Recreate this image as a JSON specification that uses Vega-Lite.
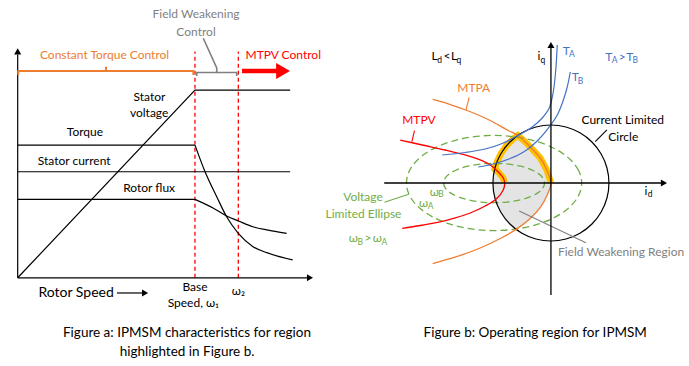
{
"$schema": "https://vega.github.io/schema/vega-lite/v6.json",
"autosize": {"type": "pad"},
"padding": 0,
"spacing": 0,
"bounds": "flush",
"background": "white",
"config": {"view": {"stroke": null}},
"datasets": {
"leftLines": [
{"c":"yaxis","o":0,"s":0,"v":0},{"c":"yaxis","o":1,"s":0,"v":119},
{"c":"xaxis","o":0,"s":0,"v":0},{"c":"xaxis","o":1,"s":164,"v":0},
{"c":"voltage","o":0,"s":0,"v":0},{"c":"voltage","o":1,"s":100.2,"v":100},{"c":"voltage","o":2,"s":154,"v":100},
{"c":"torque","o":0,"s":0,"v":70.7},{"c":"torque","o":1,"s":100.2,"v":70.7},
{"c":"current","o":0,"s":0,"v":56.5},{"c":"current","o":1,"s":154,"v":56.5},
{"c":"flux","o":0,"s":0,"v":41.8},{"c":"flux","o":1,"s":100.2,"v":41.8},
{"c":"speedarrow","o":0,"s":56.1,"v":-8.1},{"c":"speedarrow","o":1,"s":71,"v":-8.1}
],
"leftDecay": [
{"c":"torque","o":0,"s":100.2,"v":70.7},{"c":"torque","o":1,"s":105.9,"v":56.5},{"c":"torque","o":2,"s":112.5,"v":43.2},{"c":"torque","o":3,"s":118.1,"v":32.5},{"c":"torque","o":4,"s":124.7,"v":23.7},{"c":"torque","o":5,"s":133,"v":16.6},{"c":"torque","o":6,"s":140.8,"v":13.4},{"c":"torque","o":7,"s":155.4,"v":9.5},
{"c":"flux","o":0,"s":100.2,"v":41.8},{"c":"flux","o":1,"s":110.4,"v":37.2},{"c":"flux","o":2,"s":118.1,"v":32.9},{"c":"flux","o":3,"s":124.5,"v":30.4},{"c":"flux","o":4,"s":133,"v":27.2},{"c":"flux","o":5,"s":140.8,"v":25.5},{"c":"flux","o":6,"s":152,"v":23.7}
],
"ctBracket": [
{"o":0,"s":0.3,"v":108},{"o":1,"s":0.3,"v":110.2},{"o":2,"s":49.9,"v":110.2},{"o":3,"s":49.9,"v":112.5},{"o":4,"s":49.9,"v":110.2},{"o":5,"s":99.3,"v":110.2},{"o":6,"s":99.3,"v":108}
],
"fwBracket": [
{"c":"a","o":0,"s":101.2,"v":107.5},{"c":"a","o":1,"s":101.2,"v":109.4},{"c":"a","o":2,"s":112.5,"v":109.4},{"c":"a","o":3,"s":112.5,"v":111.8},{"c":"a","o":4,"s":104.9,"v":127.6},
{"c":"b","o":0,"s":112.5,"v":109.4},{"c":"b","o":1,"s":123.8,"v":109.4},{"c":"b","o":2,"s":123.8,"v":107.5}
],
"speedMarks": [
{"c":"base","o":0,"s":100.2,"v":0},{"c":"base","o":1,"s":100.2,"v":120.5},
{"c":"w2","o":0,"s":124.7,"v":0},{"c":"w2","o":1,"s":124.7,"v":120.5}
],
"mtpvArrow": [{"o":0,"s":126.8,"v":110.2},{"o":1,"s":147,"v":110.2}],
"mtpvArrowHead": [{"s":150,"v":110.2}],
"leftUpHead": [{"s":0,"v":120.6}],
"leftRightHead": [{"s":165.2,"v":0},{"s":72,"v":-8.1}],
"leftLabels": [
{"t":"Stator","s":74.5,"v":96.5},{"t":"voltage","s":74.3,"v":87.6},{"t":"Torque","s":38,"v":77.7},{"t":"Stator current","s":31.9,"v":62.2},{"t":"Rotor flux","s":74.3,"v":47.7},{"t":"Base","s":100.2,"v":-4.8},{"t":"Speed, ω₁","s":99.3,"v":-13.6},{"t":"ω₂","s":124.7,"v":-6.9}
],
"rotorSpeedLabel": [{"t":"Rotor Speed","s":33,"v":-8.1}],
"ctLabel": [{"t":"Constant Torque Control","s":49.1,"v":118.7}],
"fwLabel": [{"t":"Field Weakening","s":100.8,"v":140.5},{"t":"Control","s":100.8,"v":131}],
"mtpvLabel": [{"t":"MTPV Control","s":150.1,"v":118.7}],
"captionA": [{"t":"Figure a: IPMSM characteristics for region","s":95.7,"v":-29.4},{"t":"highlighted in Figure b.","s":95.7,"v":-39.5}],
"fwRegion": [
{"iq":-80,"id":-60,"id2":-60},{"iq":-75,"id":-66.1,"id2":-53.5},{"iq":-70,"id":-71.4,"id2":-46.5},{"iq":-60,"id":-80,"id2":-34.5},{"iq":-50,"id":-86.6,"id2":-25.2},{"iq":-40,"id":-91.7,"id2":-16.8},{"iq":-30,"id":-95.4,"id2":-11},{"iq":-20,"id":-98,"id2":-6.2},{"iq":-10,"id":-99.5,"id2":-3},{"iq":0,"id":-100,"id2":0},{"iq":10,"id":-99.5,"id2":-3},{"iq":20,"id":-98,"id2":-6.2},{"iq":30,"id":-95.4,"id2":-11},{"iq":40,"id":-91.7,"id2":-16.6},{"iq":50,"id":-86.6,"id2":-24.5},{"iq":60,"id":-80,"id2":-33.5},{"iq":70,"id":-71.4,"id2":-44},{"iq":76,"id":-65,"id2":-51},{"iq":82,"id":-57.2,"id2":-57}
],
"yellowBand": [
{"o":0,"id":-80.3,"iq":1},{"o":1,"id":-82.2,"iq":8.6},{"o":2,"id":-90.9,"iq":19},{"o":3,"id":-97,"iq":24},{"o":4,"id":-94,"iq":34.2},{"o":5,"id":-86.6,"iq":50},{"o":6,"id":-76.6,"iq":64.3},{"o":7,"id":-64.3,"iq":76.6},{"o":8,"id":-57,"iq":82},{"o":9,"id":-45.9,"iq":72.4},{"o":10,"id":-35.7,"iq":62.1},{"o":11,"id":-18.4,"iq":43.1},{"o":12,"id":-7.2,"iq":22.4},{"o":13,"id":0,"iq":0.5}
],
"ellipses": [
{"c":"outer","o":0,"id":53,"iq":0},{"c":"outer","o":1,"id":47.9,"iq":21.2},{"c":"outer","o":2,"id":32.8,"iq":41},{"c":"outer","o":3,"id":8.8,"iq":58},{"c":"outer","o":4,"id":-22.5,"iq":71},{"c":"outer","o":5,"id":-58.9,"iq":79.2},{"c":"outer","o":6,"id":-98,"iq":82},{"c":"outer","o":7,"id":-137.1,"iq":79.2},{"c":"outer","o":8,"id":-173.5,"iq":71},{"c":"outer","o":9,"id":-204.8,"iq":58},{"c":"outer","o":10,"id":-228.8,"iq":41},{"c":"outer","o":11,"id":-243.9,"iq":21.2},{"c":"outer","o":12,"id":-249,"iq":0},{"c":"outer","o":13,"id":-243.9,"iq":-21.2},{"c":"outer","o":14,"id":-228.8,"iq":-41},{"c":"outer","o":15,"id":-204.8,"iq":-58},{"c":"outer","o":16,"id":-173.5,"iq":-71},{"c":"outer","o":17,"id":-137.1,"iq":-79.2},{"c":"outer","o":18,"id":-98,"iq":-82},{"c":"outer","o":19,"id":-58.9,"iq":-79.2},{"c":"outer","o":20,"id":-22.5,"iq":-71},{"c":"outer","o":21,"id":8.8,"iq":-58},{"c":"outer","o":22,"id":32.8,"iq":-41},{"c":"outer","o":23,"id":47.9,"iq":-21.2},
{"c":"inner","o":0,"id":-11,"iq":0},{"c":"inner","o":1,"id":-14,"iq":8.8},{"c":"inner","o":2,"id":-22.7,"iq":17},{"c":"inner","o":3,"id":-36.5,"iq":24},{"c":"inner","o":4,"id":-54.5,"iq":29.4},{"c":"inner","o":5,"id":-75.5,"iq":32.8},{"c":"inner","o":6,"id":-98,"iq":34},{"c":"inner","o":7,"id":-120.5,"iq":32.8},{"c":"inner","o":8,"id":-141.5,"iq":29.4},{"c":"inner","o":9,"id":-159.5,"iq":24},{"c":"inner","o":10,"id":-173.3,"iq":17},{"c":"inner","o":11,"id":-182,"iq":8.8},{"c":"inner","o":12,"id":-185,"iq":0},{"c":"inner","o":13,"id":-182,"iq":-8.8},{"c":"inner","o":14,"id":-173.3,"iq":-17},{"c":"inner","o":15,"id":-159.5,"iq":-24},{"c":"inner","o":16,"id":-141.5,"iq":-29.4},{"c":"inner","o":17,"id":-120.5,"iq":-32.8},{"c":"inner","o":18,"id":-98,"iq":-34},{"c":"inner","o":19,"id":-75.5,"iq":-32.8},{"c":"inner","o":20,"id":-54.5,"iq":-29.4},{"c":"inner","o":21,"id":-36.5,"iq":-24},{"c":"inner","o":22,"id":-22.7,"iq":-17},{"c":"inner","o":23,"id":-14,"iq":-8.8}
],
"circle": [
{"o":0,"id":100,"iq":0},{"o":1,"id":96.6,"iq":25.9},{"o":2,"id":86.6,"iq":50},{"o":3,"id":70.7,"iq":70.7},{"o":4,"id":50,"iq":86.6},{"o":5,"id":25.9,"iq":96.6},{"o":6,"id":0,"iq":100},{"o":7,"id":-25.9,"iq":96.6},{"o":8,"id":-50,"iq":86.6},{"o":9,"id":-70.7,"iq":70.7},{"o":10,"id":-86.6,"iq":50},{"o":11,"id":-96.6,"iq":25.9},{"o":12,"id":-100,"iq":0},{"o":13,"id":-96.6,"iq":-25.9},{"o":14,"id":-86.6,"iq":-50},{"o":15,"id":-70.7,"iq":-70.7},{"o":16,"id":-50,"iq":-86.6},{"o":17,"id":-25.9,"iq":-96.6},{"o":18,"id":0,"iq":-100},{"o":19,"id":25.9,"iq":-96.6},{"o":20,"id":50,"iq":-86.6},{"o":21,"id":70.7,"iq":-70.7},{"o":22,"id":86.6,"iq":-50},{"o":23,"id":96.6,"iq":-25.9}
],
"mtpa": [
{"o":0,"id":-203.8,"iq":144},{"o":1,"id":-173.6,"iq":135.3},{"o":2,"id":-144.3,"iq":125},{"o":3,"id":-104.7,"iq":107.8},{"o":4,"id":-75.3,"iq":91.4},{"o":5,"id":-57,"iq":82},{"o":6,"id":-45.9,"iq":72.4},{"o":7,"id":-35.7,"iq":62.1},{"o":8,"id":-18.4,"iq":43.1},{"o":9,"id":-7.2,"iq":22.4},{"o":10,"id":0,"iq":0},{"o":11,"id":-7.2,"iq":-22.4},{"o":12,"id":-18.4,"iq":-42.2},{"o":13,"id":-35.7,"iq":-61.2},{"o":14,"id":-60,"iq":-80},{"o":15,"id":-87.4,"iq":-95.7},{"o":16,"id":-121.9,"iq":-112.1},{"o":17,"id":-161.5,"iq":-126.7},{"o":18,"id":-203.8,"iq":-138.8}
],
"mtpv": [
{"o":0,"id":-259.8,"iq":74.1},{"o":1,"id":-221.9,"iq":65.5},{"o":2,"id":-182.3,"iq":56.9},{"o":3,"id":-147.8,"iq":48.3},{"o":4,"id":-121.9,"iq":39.7},{"o":5,"id":-104.6,"iq":31},{"o":6,"id":-90.9,"iq":19},{"o":7,"id":-82.2,"iq":8.6},{"o":8,"id":-79.7,"iq":0},{"o":9,"id":-82.2,"iq":-12.1},{"o":10,"id":-94.3,"iq":-27.6},{"o":11,"id":-113.3,"iq":-39.7},{"o":12,"id":-139.1,"iq":-51.7},{"o":13,"id":-165,"iq":-60.3},{"o":14,"id":-190.9,"iq":-67.2},{"o":15,"id":-225.3,"iq":-73.3},{"o":16,"id":-256.4,"iq":-78.1}
],
"torqueCurves": [
{"c":"TA","o":0,"id":10.9,"iq":237.9},{"c":"TA","o":1,"id":8.3,"iq":194.8},{"c":"TA","o":2,"id":4,"iq":156.9},{"c":"TA","o":3,"id":-2.9,"iq":129.3},{"c":"TA","o":4,"id":-15,"iq":112.1},{"c":"TA","o":5,"id":-32.2,"iq":96.6},{"c":"TA","o":6,"id":-57,"iq":82},{"c":"TA","o":7,"id":-84,"iq":68.1},{"c":"TA","o":8,"id":-113.3,"iq":58.6},{"c":"TA","o":9,"id":-147.8,"iq":52.6},{"c":"TA","o":10,"id":-187.4,"iq":48.3},
{"c":"TB","o":0,"id":33.3,"iq":191.4},{"c":"TB","o":1,"id":28.1,"iq":165.5},{"c":"TB","o":2,"id":20.3,"iq":139.7},{"c":"TB","o":3,"id":10.9,"iq":117.2},{"c":"TB","o":4,"id":-2.9,"iq":96.6},{"c":"TB","o":5,"id":-21.9,"iq":74.1},{"c":"TB","o":6,"id":-44.3,"iq":55.2},{"c":"TB","o":7,"id":-70.2,"iq":42.2},{"c":"TB","o":8,"id":-99.5,"iq":32.8},{"c":"TB","o":9,"id":-125.3,"iq":27.6}
],
"leaders": [
{"c":"MTPA","o":0,"id":-146.5,"iq":125.9},{"c":"MTPA","o":1,"id":-140.9,"iq":147.8},
{"c":"MTPV","o":0,"id":-239.7,"iq":71.2},{"c":"MTPV","o":1,"id":-235.2,"iq":90.2},
{"c":"Current limit","o":0,"id":76.4,"iq":71.2},{"c":"Current limit","o":1,"id":96.5,"iq":91.4},
{"c":"Voltage limit","o":0,"id":-286.9,"iq":-33.3},{"c":"Voltage limit","o":1,"id":-245.5,"iq":-19.5},
{"c":"Field weakening","o":0,"id":-54.7,"iq":-48.3},{"c":"Field weakening","o":1,"id":60.3,"iq":-102.9}
],
"rightAxes": [
{"c":"iq","o":0,"id":0,"iq":-193},{"c":"iq","o":1,"id":0,"iq":236},
{"c":"id","o":0,"id":-287.4,"iq":0},{"c":"id","o":1,"id":194,"iq":0}
],
"rightUpHead": [{"id":0,"iq":237.9}],
"rightRightHead": [{"id":194.8,"iq":0}],
"rBlack": [
{"t":"Current Limited","id":123.8,"iq":108.6},{"t":"Circle","id":124.7,"iq":78.8},{"t":"i","id":-20.5,"iq":219},{"t":"i","id":163.8,"iq":-13.3},{"t":"L","id":-200.5,"iq":219},{"t":"<","id":-179.3,"iq":219},{"t":"L","id":-167,"iq":219}
],
"rBlackSub": [
{"t":"q","id":-13.8,"iq":211.2},{"t":"d","id":171.2,"iq":-19},{"t":"d","id":-191.7,"iq":211.2},{"t":"q","id":-158.5,"iq":211.2}
],
"rBlue": [
{"t":"T","id":26.4,"iq":228.4},{"t":"T","id":41.9,"iq":183.3},{"t":"T","id":99.7,"iq":217.8},{"t":">","id":122.9,"iq":217.8},{"t":"T","id":135.9,"iq":217.8}
],
"rBlueSub": [
{"t":"A","id":36.2,"iq":222.4},{"t":"B","id":51,"iq":175.9},{"t":"A","id":110,"iq":211.2},{"t":"B","id":145.3,"iq":211.2}
],
"rOrange": [{"t":"MTPA","id":-133.1,"iq":163.3}],
"rRed": [{"t":"MTPV","id":-227.6,"iq":108.6}],
"rGray": [{"t":"Field Weakening Region","id":120.9,"iq":-118.4}],
"rGreen": [
{"t":"Voltage","id":-324,"iq":-23.6},{"t":"Limited Ellipse","id":-323.1,"iq":-53.4},{"t":"ω","id":-201.2,"iq":-15},{"t":"ω","id":-219.7,"iq":-34},{"t":"ω","id":-340.5,"iq":-95.3},{"t":">","id":-315.5,"iq":-95.3},{"t":"ω","id":-299.1,"iq":-95.3}
],
"rGreenSub": [
{"t":"B","id":-189.3,"iq":-19.8},{"t":"A","id":-207.2,"iq":-39},{"t":"B","id":-328.8,"iq":-100.9},{"t":"A","id":-287,"iq":-100.9}
],
"captionB": [{"t":"Figure b: Operating region for IPMSM","id":-27.1,"iq":-258.6}]
},
"hconcat": [
{
"width": 345,
"height": 366,
"encoding": {
"x": {"field":"s","type":"quantitative","scale":{"domain":[-10,185],"nice":false,"zero":false},"axis":null},
"y": {"field":"v","type":"quantitative","scale":{"domain":[-47,148],"nice":false,"zero":false},"axis":null}
},
"layer": [
{"data":{"name":"speedMarks"},"mark":{"type":"line","color":"#FF0000","strokeWidth":1.3,"strokeDash":[4,3]},"encoding":{"detail":{"field":"c"},"order":{"field":"o"}}},
{"data":{"name":"leftLines"},"mark":{"type":"line","color":"#000000","strokeWidth":1.2},"encoding":{"detail":{"field":"c"},"order":{"field":"o"}}},
{"data":{"name":"leftDecay"},"mark":{"type":"line","color":"#000000","strokeWidth":1.2,"interpolate":"monotone"},"encoding":{"detail":{"field":"c"},"order":{"field":"o"}}},
{"data":{"name":"ctBracket"},"mark":{"type":"line","color":"#ED7D31","strokeWidth":2},"encoding":{"order":{"field":"o"}}},
{"data":{"name":"fwBracket"},"mark":{"type":"line","color":"#7F7F7F","strokeWidth":1.6},"encoding":{"detail":{"field":"c"},"order":{"field":"o"}}},
{"data":{"name":"mtpvArrow"},"mark":{"type":"line","color":"#FF0000","strokeWidth":4.5},"encoding":{"order":{"field":"o"}}},
{"data":{"name":"mtpvArrowHead"},"mark":{"type":"point","shape":"triangle-right","filled":true,"size":256,"color":"#FF0000","opacity":1}},
{"data":{"name":"leftUpHead"},"mark":{"type":"point","shape":"triangle-up","filled":true,"size":50,"color":"#000000","opacity":1}},
{"data":{"name":"leftRightHead"},"mark":{"type":"point","shape":"triangle-right","filled":true,"size":50,"color":"#000000","opacity":1}},
{"data":{"name":"leftLabels"},"mark":{"type":"text","font":"Lato","fontSize":12,"color":"#000000","align":"center","baseline":"middle"},"encoding":{"text":{"field":"t"}}},
{"data":{"name":"rotorSpeedLabel"},"mark":{"type":"text","font":"Lato","fontSize":14,"color":"#000000","align":"center","baseline":"middle"},"encoding":{"text":{"field":"t"}}},
{"data":{"name":"ctLabel"},"mark":{"type":"text","font":"Lato","fontSize":12,"color":"#ED7D31","align":"center","baseline":"middle"},"encoding":{"text":{"field":"t"}}},
{"data":{"name":"fwLabel"},"mark":{"type":"text","font":"Lato","fontSize":12,"color":"#7F7F7F","align":"center","baseline":"middle"},"encoding":{"text":{"field":"t"}}},
{"data":{"name":"mtpvLabel"},"mark":{"type":"text","font":"Lato","fontSize":12,"color":"#FF0000","align":"center","baseline":"middle"},"encoding":{"text":{"field":"t"}}},
{"data":{"name":"captionA"},"mark":{"type":"text","font":"Lato","fontSize":13.5,"color":"#000000","align":"center","baseline":"middle"},"encoding":{"text":{"field":"t"}}}
]
},
{
"width": 344,
"height": 366,
"encoding": {
"x": {"field":"id","type":"quantitative","scale":{"domain":[-355,238],"nice":false,"zero":false},"axis":null},
"y": {"field":"iq","type":"quantitative","scale":{"domain":[-315.5,315.5],"nice":false,"zero":false},"axis":null}
},
"layer": [
{"data":{"name":"fwRegion"},"mark":{"type":"area","orient":"horizontal","color":"#E4E4E4","opacity":1},"encoding":{"x2":{"field":"id2"}}},
{"data":{"name":"yellowBand"},"mark":{"type":"line","color":"#FFC000","strokeWidth":6.5,"strokeJoin":"miter"},"encoding":{"order":{"field":"o"}}},
{"data":{"name":"ellipses"},"mark":{"type":"line","color":"#70AD47","strokeWidth":1.3,"strokeDash":[7,4],"interpolate":"cardinal-closed"},"encoding":{"detail":{"field":"c"},"order":{"field":"o"}}},
{"data":{"name":"circle"},"mark":{"type":"line","color":"#000000","strokeWidth":1.2,"interpolate":"cardinal-closed"},"encoding":{"order":{"field":"o"}}},
{"data":{"name":"mtpa"},"mark":{"type":"line","color":"#ED7D31","strokeWidth":1.3,"interpolate":"catmull-rom"},"encoding":{"order":{"field":"o"}}},
{"data":{"name":"mtpv"},"mark":{"type":"line","color":"#FF0000","strokeWidth":1.3,"interpolate":"catmull-rom"},"encoding":{"order":{"field":"o"}}},
{"data":{"name":"torqueCurves"},"mark":{"type":"line","color":"#4472C4","strokeWidth":1.2,"interpolate":"catmull-rom"},"encoding":{"detail":{"field":"c"},"order":{"field":"o"}}},
{"data":{"name":"leaders"},"mark":{"type":"line","strokeWidth":1.1},"encoding":{"color":{"field":"c","type":"nominal","legend":null,"scale":{"domain":["MTPA","MTPV","Current limit","Voltage limit","Field weakening"],"range":["#ED7D31","#FF0000","#000000","#70AD47","#7F7F7F"]}},"order":{"field":"o"}}},
{"data":{"name":"rightAxes"},"mark":{"type":"line","color":"#000000","strokeWidth":1.3},"encoding":{"detail":{"field":"c"},"order":{"field":"o"}}},
{"data":{"name":"rightUpHead"},"mark":{"type":"point","shape":"triangle-up","filled":true,"size":50,"color":"#000000","opacity":1}},
{"data":{"name":"rightRightHead"},"mark":{"type":"point","shape":"triangle-right","filled":true,"size":50,"color":"#000000","opacity":1}},
{"data":{"name":"rBlack"},"mark":{"type":"text","font":"Lato","fontSize":12,"color":"#000000","align":"center","baseline":"middle"},"encoding":{"text":{"field":"t"}}},
{"data":{"name":"rBlackSub"},"mark":{"type":"text","font":"Lato","fontSize":8.5,"color":"#000000","align":"center","baseline":"middle"},"encoding":{"text":{"field":"t"}}},
{"data":{"name":"rBlue"},"mark":{"type":"text","font":"Lato","fontSize":12,"color":"#4472C4","align":"center","baseline":"middle"},"encoding":{"text":{"field":"t"}}},
{"data":{"name":"rBlueSub"},"mark":{"type":"text","font":"Lato","fontSize":8.5,"color":"#4472C4","align":"center","baseline":"middle"},"encoding":{"text":{"field":"t"}}},
{"data":{"name":"rOrange"},"mark":{"type":"text","font":"Lato","fontSize":12,"color":"#ED7D31","align":"center","baseline":"middle"},"encoding":{"text":{"field":"t"}}},
{"data":{"name":"rRed"},"mark":{"type":"text","font":"Lato","fontSize":12,"color":"#FF0000","align":"center","baseline":"middle"},"encoding":{"text":{"field":"t"}}},
{"data":{"name":"rGray"},"mark":{"type":"text","font":"Lato","fontSize":12,"color":"#7F7F7F","align":"center","baseline":"middle"},"encoding":{"text":{"field":"t"}}},
{"data":{"name":"rGreen"},"mark":{"type":"text","font":"Lato","fontSize":12,"color":"#70AD47","align":"center","baseline":"middle"},"encoding":{"text":{"field":"t"}}},
{"data":{"name":"rGreenSub"},"mark":{"type":"text","font":"Lato","fontSize":8.5,"color":"#70AD47","align":"center","baseline":"middle"},"encoding":{"text":{"field":"t"}}},
{"data":{"name":"captionB"},"mark":{"type":"text","font":"Lato","fontSize":13.5,"color":"#000000","align":"center","baseline":"middle"},"encoding":{"text":{"field":"t"}}}
]
}
]
}
